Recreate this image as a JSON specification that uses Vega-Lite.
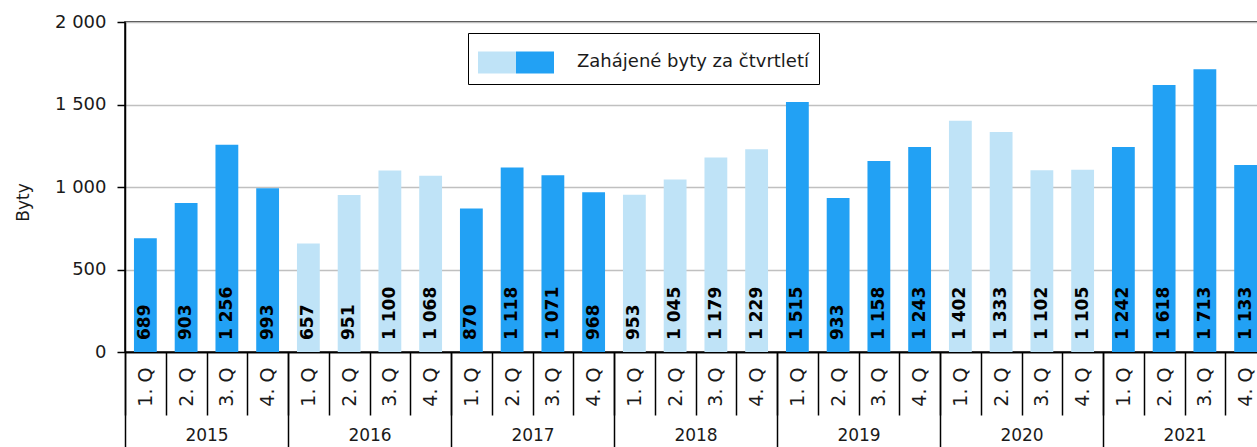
{
  "$schema": "https://vega.github.io/schema/vega-lite/v6.json",
  "autosize": {"type": "none"},
  "padding": {"left": 125, "top": 22, "right": 0, "bottom": 95},
  "width": 1141,
  "height": 330,
  "background": "white",
  "config": {
    "font": "DejaVu Sans",
    "view": {"stroke": "#000", "strokeWidth": 1.5},
    "axis": {"domainColor": "#000", "domainWidth": 1.5, "tickColor": "#000", "tickWidth": 1.5, "labelColor": "#1a1a1a", "labelFontSize": 17, "titleColor": "#1a1a1a"}
  },
  "data": {"values": [
    {"obdobi": "2015/1", "rok": "2015", "byty": 689},
    {"obdobi": "2015/2", "rok": "2015", "byty": 903},
    {"obdobi": "2015/3", "rok": "2015", "byty": 1256},
    {"obdobi": "2015/4", "rok": "2015", "byty": 993},
    {"obdobi": "2016/1", "rok": "2016", "byty": 657},
    {"obdobi": "2016/2", "rok": "2016", "byty": 951},
    {"obdobi": "2016/3", "rok": "2016", "byty": 1100},
    {"obdobi": "2016/4", "rok": "2016", "byty": 1068},
    {"obdobi": "2017/1", "rok": "2017", "byty": 870},
    {"obdobi": "2017/2", "rok": "2017", "byty": 1118},
    {"obdobi": "2017/3", "rok": "2017", "byty": 1071},
    {"obdobi": "2017/4", "rok": "2017", "byty": 968},
    {"obdobi": "2018/1", "rok": "2018", "byty": 953},
    {"obdobi": "2018/2", "rok": "2018", "byty": 1045},
    {"obdobi": "2018/3", "rok": "2018", "byty": 1179},
    {"obdobi": "2018/4", "rok": "2018", "byty": 1229},
    {"obdobi": "2019/1", "rok": "2019", "byty": 1515},
    {"obdobi": "2019/2", "rok": "2019", "byty": 933},
    {"obdobi": "2019/3", "rok": "2019", "byty": 1158},
    {"obdobi": "2019/4", "rok": "2019", "byty": 1243},
    {"obdobi": "2020/1", "rok": "2020", "byty": 1402},
    {"obdobi": "2020/2", "rok": "2020", "byty": 1333},
    {"obdobi": "2020/3", "rok": "2020", "byty": 1102},
    {"obdobi": "2020/4", "rok": "2020", "byty": 1105},
    {"obdobi": "2021/1", "rok": "2021", "byty": 1242},
    {"obdobi": "2021/2", "rok": "2021", "byty": 1618},
    {"obdobi": "2021/3", "rok": "2021", "byty": 1713},
    {"obdobi": "2021/4", "rok": "2021", "byty": 1133}
  ]},
  "transform": [
    {"calculate": "(+datum.rok) % 2 == 1 ? 'b' : 'a'", "as": "skupina"},
    {"calculate": "replace(format(datum.byty, ','), ',', ' ')", "as": "popis"}
  ],
  "layer": [
    {
      "layer": [
        {
          "mark": {"type": "bar", "width": {"band": 0.56}},
          "encoding": {
            "x": {"field": "obdobi", "type": "ordinal", "scale": {"type": "band", "paddingInner": 0, "paddingOuter": 0},
              "axis": {"title": null, "tickBand": "extent", "tickSize": 63, "labelAngle": 270, "labelPadding": -48, "labelAlign": "right", "labelBaseline": "middle", "labelFontSize": 19, "labelExpr": "isValid(datum.value) ? split(datum.value, '/')[1] + '. Q' : ''", "grid": false}},
            "y": {"field": "byty", "type": "quantitative", "scale": {"domain": [0, 2000], "nice": false},
              "axis": {"title": "Byty", "values": [0, 500, 1000, 1500, 2000], "labelExpr": "replace(format(datum.value, ','), ',', ' ')", "tickSize": 8, "labelPadding": 11, "labelFontSize": 18, "grid": true, "gridColor": "#C0C0C0", "gridWidth": 1.5, "titleFontSize": 17, "titleFontWeight": "normal", "titleX": -102, "titleY": 180, "titleAngle": 270, "titleAlign": "center", "titleBaseline": "middle"}},
            "color": {"field": "skupina", "type": "nominal", "scale": {"domain": ["a", "b"], "range": ["#BFE3F7", "#22A1F4"]},
              "legend": {"title": null, "orient": "none", "legendX": 343, "legendY": 11, "direction": "horizontal", "symbolType": "M-1,-0.58H1V0.58H-1Z", "symbolSize": 1444, "symbolStrokeWidth": 0, "symbolOpacity": 1, "labelExpr": "datum.value == 'b' ? 'Zahájené byty za čtvrtletí' : ''", "labelOffset": 0, "columnPadding": 0, "labelLimit": 600, "labelFontSize": 18, "labelColor": "#1a1a1a", "strokeColor": "#000", "fillColor": "white", "padding": 10,
                "encode": {"labels": {"update": {"dx": {"signal": "datum.value === 'b' ? 23 : 0"}, "text": {"signal": "datum.value === 'b' ? 'Zahájené byty za čtvrtletí\\u2003\\u2003' : ''"}}}}}}
          }
        },
        {
          "mark": {"type": "text", "angle": 270, "align": "left", "baseline": "middle", "dx": 12, "fontWeight": "bold", "fontSize": 17, "color": "#000"},
          "encoding": {
            "x": {"field": "obdobi", "type": "ordinal"},
            "y": {"datum": 0},
            "text": {"field": "popis"}
          }
        }
      ]
    },
    {
      "mark": {"type": "point", "opacity": 0},
      "encoding": {
        "x": {"field": "rok", "type": "ordinal", "scale": {"type": "band", "paddingInner": 0, "paddingOuter": 0},
          "axis": {"title": null, "orient": "bottom", "tickBand": "extent", "tickSize": 95, "labelAngle": 0, "labelPadding": -20, "labelBaseline": "top", "labelExpr": "isValid(datum.value) ? datum.label : ''", "grid": false}}
      }
    }
  ],
  "resolve": {"scale": {"x": "independent"}, "axis": {"x": "independent"}}
}
